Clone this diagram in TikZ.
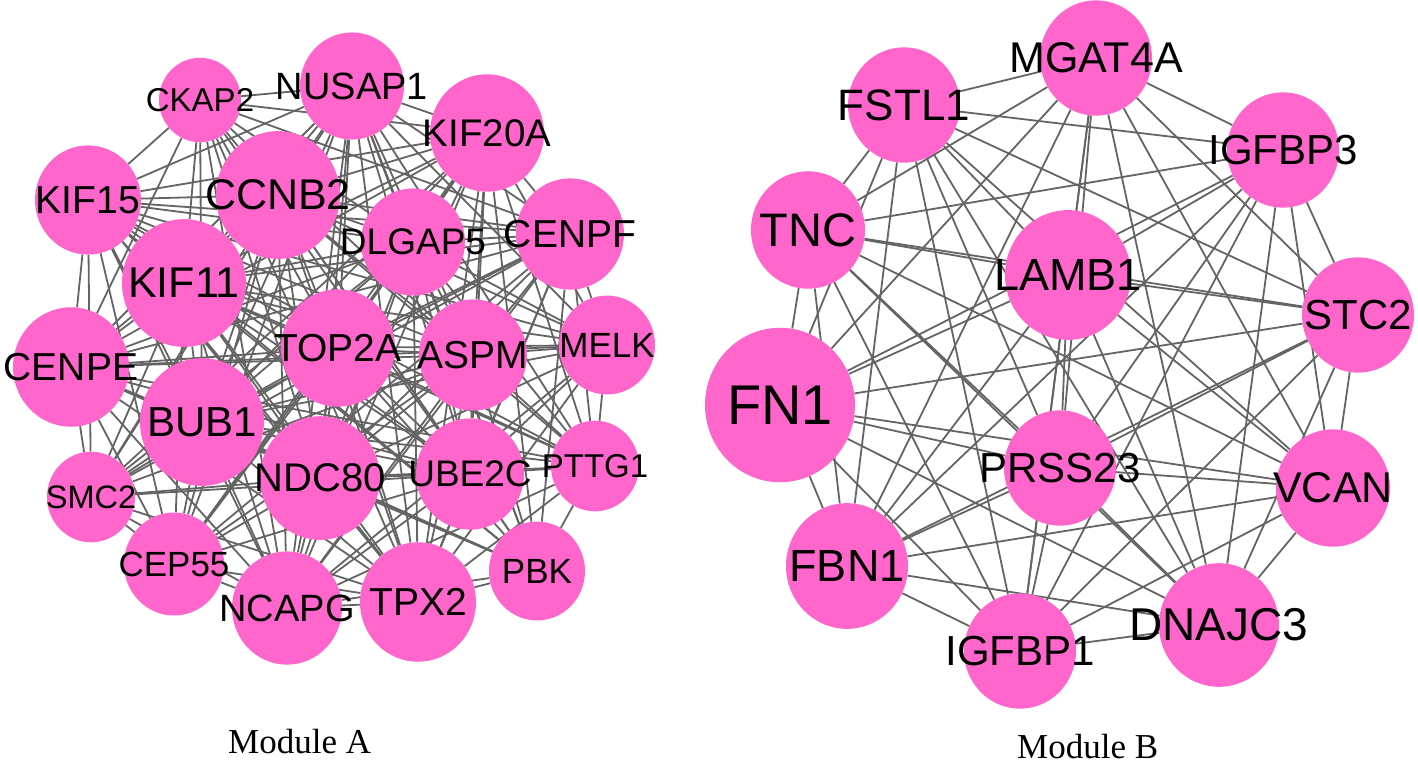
\documentclass[tikz,border=0pt]{standalone}
\usepackage{fontspec}
\usetikzlibrary{shapes.geometric}
\newfontfamily\genefont{Liberation Sans}
\newfontfamily\capfont{Liberation Serif}
\newcommand\gfs[1]{\fontsize{#1}{#1}\selectfont}
\definecolor{nodepink}{RGB}{255,102,204}
\definecolor{edgegray}{RGB}{100,100,100}
\pgfdeclarelayer{bg}
\pgfsetlayers{bg,main}
\tikzset{
  gene/.style={ellipse, fill=nodepink, draw=none, inner sep=0pt,
    minimum width=2*#1, minimum height=2.06*#1},
  lbl/.style={font=\genefont\gfs{#1}, inner sep=0pt, text=black},
  edge/.style={draw=edgegray, line width=1.8pt},
  caption/.style={font=\capfont\gfs{35}, inner sep=0pt, anchor=base west}
}
\begin{document}
\begin{tikzpicture}[x=1pt,y=-1pt]
\useasboundingbox (0,0) rectangle (1418,764);
% ---------- Module A ----------
\node[gene=41, label={[lbl=33]center:CKAP2}] (a1) at (200,100) {};
\node[gene=52, label={[lbl=38]center:NUSAP1}] (a2) at (352,86) {};
\node[gene=57, label={[lbl=38.5]center:KIF20A}] (a3) at (487,133) {};
\node[gene=53, label={[lbl=39]center:KIF15}] (a4) at (88,200) {};
\node[gene=62, label={[lbl=43]center:CCNB2}] (a5) at (278,195) {};
\node[gene=52, label={[lbl=37]center:DLGAP5}] (a6) at (413,242) {};
\node[gene=54, label={[lbl=39]center:CENPF}] (a7) at (570,234) {};
\node[gene=62, label={[lbl=43]center:KIF11}] (a8) at (184,283) {};
\node[gene=58, label={[lbl=39]center:CENPE}] (a9) at (71,367) {};
\node[gene=57, label={[lbl=39]center:TOP2A}] (a10) at (338,348) {};
\node[gene=54, label={[lbl=39]center:ASPM}] (a11) at (473,355) {};
\node[gene=48, label={[lbl=35]center:MELK}] (a12) at (607,345) {};
\node[gene=62, label={[lbl=42]center:BUB1}] (a13) at (202,422) {};
\node[gene=60, label={[lbl=40]center:NDC80}] (a14) at (320,478) {};
\node[gene=54, label={[lbl=37]center:UBE2C}] (a15) at (470,474) {};
\node[gene=44, label={[lbl=33]center:PTTG1}] (a16) at (595,466) {};
\node[gene=44, label={[lbl=32.5]center:SMC2}] (a17) at (91,497) {};
\node[gene=50, label={[lbl=35]center:CEP55}] (a18) at (174,564) {};
\node[gene=55, label={[lbl=38]center:NCAPG}] (a19) at (287,608) {};
\node[gene=58, label={[lbl=39]center:TPX2}] (a20) at (418,602) {};
\node[gene=48, label={[lbl=35]center:PBK}] (a21) at (537,571) {};
% ---------- Module B ----------
\node[gene=56, label={[lbl=43]center:MGAT4A}] (b1) at (1096,58) {};
\node[gene=56, label={[lbl=44]center:FSTL1}] (b2) at (904,105) {};
\node[gene=56, label={[lbl=42]center:IGFBP3}] (b3) at (1283,150) {};
\node[gene=57, label={[lbl=47]center:TNC}] (b4) at (808,230) {};
\node[gene=63, label={[lbl=45]center:LAMB1}] (b5) at (1068,275) {};
\node[gene=56, label={[lbl=42]center:STC2}] (b6) at (1358,315) {};
\node[gene=75, label={[lbl=56]center:FN1}] (b7) at (780,405) {};
\node[gene=56, label={[lbl=42]center:PRSS23}] (b8) at (1060,468) {};
\node[gene=57, label={[lbl=43]center:VCAN}] (b9) at (1333,488) {};
\node[gene=61, label={[lbl=45]center:FBN1}] (b10) at (847,566) {};
\node[gene=60, label={[lbl=46]center:DNAJC3}] (b11) at (1219,625) {};
\node[gene=56, label={[lbl=42]center:IGFBP1}] (b12) at (1020,651) {};
% ---------- captions ----------
\node[caption] (capA) at (228,753) {Module A};
\node[caption] (capB) at (1017,758) {Module B};
% ---------- edges ----------
\begin{pgfonlayer}{bg}
\def\smallflags{{1,0,0,0,0,0,0,0,0,0,0,1,0,0,0,1,1,1,0,0,1}}
\foreach \i in {1,...,20}{
  \pgfmathtruncatemacro\k{\i+1}
  \foreach \j in {\k,...,21}{
    \pgfmathtruncatemacro\s{\smallflags[\i-1]+\smallflags[\j-1]}
    \ifnum\s<2 \draw[edge] (a\i) -- (a\j); \fi
  }
}
\draw[edge] (a12) -- (a16);
\draw[edge] (a16) -- (a21);
\draw[edge] (a17) -- (a18);
\foreach \i in {1,...,11}{
  \pgfmathtruncatemacro\k{\i+1}
  \foreach \j in {\k,...,12}{
    \draw[edge] (b\i) -- (b\j);
  }
}
\end{pgfonlayer}
\end{tikzpicture}
\end{document}
